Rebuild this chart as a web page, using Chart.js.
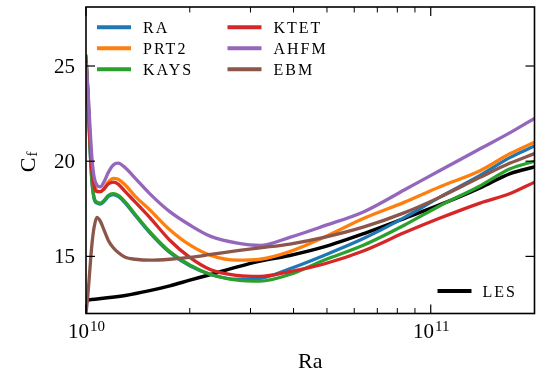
<!DOCTYPE html>
<html>
<head>
<meta charset="utf-8">
<script src="https://cdn.jsdelivr.net/npm/chart.js@4.4.0/dist/chart.umd.min.js"></script>
<style>
  html, body { margin: 0; padding: 0; background: #fff; }
  #wrap { width: 536px; height: 373px; }
</style>
</head>
<body>
<div id="wrap"><canvas id="cf" width="536" height="373"></canvas></div>
<script>
// ---------- data ----------
const raGrid = [1.0e10, 1.013e10, 1.027e10, 1.04e10, 1.055e10, 1.075e10, 1.1e10, 1.13e10, 1.16e10,
  1.2e10, 1.24e10, 1.3e10, 1.39e10, 1.53e10, 1.75e10, 2.0e10, 2.3e10, 2.75e10, 3.2e10, 3.9e10,
  4.9e10, 6.4e10, 8.4e10, 1.06e11, 1.39e11, 1.7e11, 2.0e11];

const cfRA   = [25.5, 23.4, 20.7, 18.95, 18.05, 17.8, 17.75, 17.9, 18.15, 18.25, 18.15, 17.8, 17.15, 16.25,
  15.2, 14.5, 14.05, 13.8, 13.85, 14.35, 15.05, 15.95, 17.05, 18.1, 19.25, 20.2, 20.8];
const cfPRT2 = [25.4, 23.6, 21.3, 19.8, 18.9, 18.45, 18.4, 18.6, 18.9, 19.1, 19.05, 18.75, 18.15, 17.45,
  16.4, 15.6, 15.05, 14.8, 14.85, 15.25, 16.0, 17.0, 17.85, 18.65, 19.5, 20.4, 21.0];
const cfKAYS = [25.6, 23.5, 20.8, 19.0, 18.1, 17.85, 17.8, 17.95, 18.2, 18.3, 18.2, 17.85, 17.2, 16.3,
  15.25, 14.55, 14.05, 13.75, 13.7, 14.05, 14.8, 15.6, 16.65, 17.65, 18.7, 19.6, 20.0];
const cfKTET = [25.3, 23.4, 21.0, 19.5, 18.7, 18.4, 18.4, 18.55, 18.8, 18.9, 18.8, 18.4, 17.85, 17.05,
  15.85, 14.95, 14.3, 14.0, 13.95, 14.2, 14.6, 15.3, 16.25, 17.0, 17.8, 18.3, 18.9];
const cfAHFM = [25.15, 23.8, 21.8, 20.2, 19.2, 18.75, 18.65, 18.95, 19.4, 19.8, 19.9, 19.65, 19.1, 18.3,
  17.35, 16.65, 16.05, 15.7, 15.58, 16.0, 16.6, 17.35, 18.5, 19.5, 20.65, 21.5, 22.25];
const cfEBM  = [12.0, 13.0, 14.4, 15.6, 16.5, 17.05, 16.85, 16.35, 15.85, 15.45, 15.2, 14.95, 14.85, 14.8,
  14.85, 14.95, 15.1, 15.3, 15.45, 15.65, 16.0, 16.55, 17.3, 18.1, 19.15, 19.9, 20.4];

const lesRa = [1.0e10, 1.3e10, 1.53e10, 1.75e10, 2.0e10, 2.3e10, 2.75e10, 3.2e10, 3.9e10, 4.9e10,
  6.4e10, 8.4e10, 1.06e11, 1.39e11, 1.7e11, 2.0e11];
const lesCf = [12.7, 12.95, 13.2, 13.45, 13.75, 14.05, 14.45, 14.75, 15.05, 15.5, 16.2, 17.0, 17.7,
  18.6, 19.35, 19.7];

const seriesNames  = ["RA", "PRT2", "KAYS", "KTET", "AHFM", "EBM"];
const seriesValues = [cfRA, cfPRT2, cfKAYS, cfKTET, cfAHFM, cfEBM];
const seriesColors = ["#1f77b4", "#ff7f0e", "#2ca02c", "#d62728", "#9467bd", "#8c564b"];
const lesName = "LES";

const xMajor = [1e10, 1e11];
const xMinor = [2e10, 3e10, 4e10, 5e10, 6e10, 7e10, 8e10, 9e10, 2e11];
const xTickBase = ["10", "10"];
const xTickExp = ["10", "11"];
const yTicks = [15, 20, 25];
const xTitle = "Ra";
const yTitle = ["C", "f"];

const FONT = '"Liberation Serif", "DejaVu Serif", serif';

// ---------- datasets ----------
const pts = (xs, ys) => xs.map((x, i) => ({ x, y: ys[i] }));

const datasets = seriesNames.map((name, i) => ({
  label: name,
  data: pts(raGrid, seriesValues[i]),
  borderColor: seriesColors[i],
  borderWidth: 3.3,
  order: 8 - i
}));
datasets.push({ label: lesName, data: pts(lesRa, lesCf), borderColor: "#000", borderWidth: 3.5, order: 10 });

// ---------- frame, inward ticks, labels, legend ----------
const frame = {
  id: "frame",
  afterDatasetsDraw(chart) {
    const { ctx, chartArea: a, scales: { x, y } } = chart;
    ctx.save();
    ctx.strokeStyle = "#000";
    ctx.fillStyle = "#000";

    const seg = (x1, y1, x2, y2, w) => {
      ctx.lineWidth = w; ctx.beginPath(); ctx.moveTo(x1, y1); ctx.lineTo(x2, y2); ctx.stroke();
    };

    // ticks pointing in, all four sides
    xMajor.forEach(v => { const p = x.getPixelForValue(v); seg(p, a.bottom, p, a.bottom - 9, 1.2); seg(p, a.top, p, a.top + 9, 1.2); });
    xMinor.forEach(v => { const p = x.getPixelForValue(v); seg(p, a.bottom, p, a.bottom - 5.5, 1); seg(p, a.top, p, a.top + 5.5, 1); });
    yTicks.forEach(v => { const p = y.getPixelForValue(v); seg(a.left, p, a.left + 9, p, 1.2); seg(a.right, p, a.right - 9, p, 1.2); });

    ctx.lineWidth = 1.6;
    ctx.strokeRect(a.left, a.top, a.right - a.left, a.bottom - a.top);

    // y tick labels
    ctx.font = `21px ${FONT}`;
    ctx.textAlign = "right";
    ctx.textBaseline = "alphabetic";
    yTicks.forEach(v => ctx.fillText(String(v), a.left - 11, y.getPixelForValue(v) + 7));

    // x tick labels with superscript
    xMajor.forEach((v, i) => {
      const p = x.getPixelForValue(v);
      ctx.font = `21px ${FONT}`;
      const wb = ctx.measureText(xTickBase[i]).width;
      ctx.font = `15px ${FONT}`;
      const we = ctx.measureText(xTickExp[i]).width;
      const x0 = p - (wb + we) / 2;
      const base = a.bottom + 24.5;
      ctx.textAlign = "left";
      ctx.font = `21px ${FONT}`;
      ctx.fillText(xTickBase[i], x0, base);
      ctx.font = `15px ${FONT}`;
      ctx.fillText(xTickExp[i], x0 + wb + 1, base - 7);
    });

    // axis titles
    ctx.font = `22px ${FONT}`;
    ctx.textAlign = "center";
    ctx.fillText(xTitle, (a.left + a.right) / 2, 368);

    ctx.save();
    ctx.translate(35, (a.top + a.bottom) / 2 + 12);
    ctx.rotate(-Math.PI / 2);
    ctx.textAlign = "left";
    ctx.font = `22px ${FONT}`;
    ctx.fillText(yTitle[0], 0, 0);
    const wc = ctx.measureText(yTitle[0]).width;
    ctx.font = `15px ${FONT}`;
    ctx.fillText(yTitle[1], wc + 1, 1.5);
    ctx.restore();

    // legend (two columns, top left)
    ctx.font = `16px ${FONT}`;
    ctx.textAlign = "left";
    ctx.letterSpacing = "2px";
    const ds = chart.data.datasets;
    for (let i = 0; i < 6; i++) {
      const col = Math.floor(i / 3), row = i % 3;
      const lx = a.left + 11 + col * 130.5;
      const ly = a.top + 20.3 + row * 21;
      ctx.strokeStyle = ds[i].borderColor;
      seg(lx, ly, lx + 34, ly, 4);
      ctx.fillText(ds[i].label, lx + 46, ly + 5.5);
    }
    // LES legend, bottom right
    const lx = a.right - 97, ly = a.bottom - 22.5;
    ctx.strokeStyle = "#000";
    seg(lx, ly, lx + 34, ly, 4);
    ctx.fillText(ds[6].label, lx + 45, ly + 5.5);
    ctx.restore();
  }
};

new Chart(document.getElementById("cf"), {
  type: "line",
  data: { datasets },
  options: {
    responsive: false,
    animation: false,
    devicePixelRatio: 1,
    layout: { padding: { left: 86, top: 7, right: 1.5, bottom: 59.5 } },
    elements: {
      point: { radius: 0 },
      line: { cubicInterpolationMode: "monotone", borderJoinStyle: "round", fill: false }
    },
    scales: {
      x: { type: "logarithmic", min: 1e10, max: 2e11, display: false },
      y: { type: "linear", min: 12, max: 28.1, display: false }
    },
    plugins: { legend: { display: false }, tooltip: { enabled: false } }
  },
  plugins: [frame]
});
</script>
</body>
</html>
